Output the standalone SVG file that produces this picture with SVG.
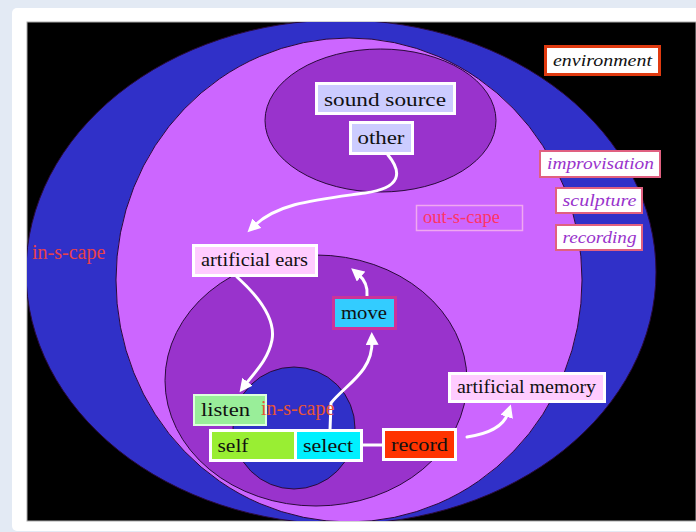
<svg xmlns="http://www.w3.org/2000/svg" width="696" height="532" viewBox="0 0 696 532">
<defs>
<clipPath id="frame"><rect x="27" y="22" width="669" height="499"/></clipPath>
<marker id="ah" markerUnits="userSpaceOnUse" markerWidth="14" markerHeight="14" refX="4" refY="6.5" orient="auto"><path d="M0,0 L13,6.5 L0,13 z" fill="#ffffff"/></marker>
<style>
.lbl{font-family:"Liberation Serif",serif;font-size:19px;fill:#111111}
.sm{font-size:18px}
.it{font-family:"Liberation Serif",serif;font-style:italic;font-size:17px;fill:#9933cc}
.scape{font-family:"Liberation Serif",serif;font-size:20px;fill:#e8404a}
.zone{stroke:#2a0a3a;stroke-width:1}
.wb{stroke:#ffffff;stroke-width:3}
.pk{fill:#ffffff;stroke:#e06080;stroke-width:2}
.con{fill:none;stroke:#ffffff;stroke-width:3;stroke-linecap:round}
</style>
</defs>
<rect x="0" y="0" width="696" height="532" fill="#e3eaf4"/>
<rect x="12" y="8" width="700" height="523" rx="5" fill="#ffffff"/>
<rect x="27" y="22" width="669" height="499" fill="#000000" stroke="#aaaaaa" stroke-width="1"/>
<g id="zones" clip-path="url(#frame)">
<ellipse class="zone" cx="341" cy="272" rx="315" ry="252" fill="#3030c8"/>
<ellipse class="zone" cx="349" cy="280" rx="233" ry="242" fill="#cc66ff"/>
<ellipse class="zone" cx="380.5" cy="120.5" rx="115.5" ry="71.5" fill="#9933cc"/>
<ellipse class="zone" cx="316" cy="380.5" rx="151" ry="125.5" fill="#9933cc"/>
<ellipse class="zone" cx="294" cy="428" rx="61" ry="61" fill="#3030c8"/>
</g>
<g id="connectors">
<path class="con" d="M 388 155 C 402 172, 402 188, 365 193 C 315 200, 278 203, 254 226" marker-end="url(#ah)"/>
<path class="con" d="M 237 277 C 258 296, 276 318, 272 340 C 268 360, 255 372, 245 385" marker-end="url(#ah)"/>
<path class="con" d="M 330 430 L 331 403 C 345 385, 373 372, 372 341" marker-end="url(#ah)"/>
<path class="con" d="M 367 296 C 368 287, 365 280, 358 274" marker-end="url(#ah)"/>
<path class="con" d="M 467 437 C 487 434, 503 428, 508 413" marker-end="url(#ah)"/>
<line class="con" x1="362" y1="445" x2="383" y2="445" stroke-linecap="butt"/>
</g>
<g id="environment">
<rect x="545.5" y="46.5" width="114" height="28" fill="#ffffff" stroke="#e03a10" stroke-width="3"/>
<text x="553" y="66" class="it" style="fill:#111111" textLength="99" lengthAdjust="spacingAndGlyphs">environment</text>
</g>
<g id="sound-source">
<rect class="wb" x="316.5" y="83.5" width="138" height="30" fill="#ccccff"/>
<text x="324" y="106" class="lbl" textLength="122" lengthAdjust="spacingAndGlyphs">sound source</text>
</g>
<g id="other">
<rect class="wb" x="350.5" y="122.5" width="62" height="31" fill="#ccccff"/>
<text x="357.5" y="144" class="lbl" textLength="47" lengthAdjust="spacingAndGlyphs">other</text>
</g>
<g id="improvisation">
<rect class="pk" x="540" y="151" width="120" height="26"/>
<text x="547" y="169" class="it" textLength="107" lengthAdjust="spacingAndGlyphs">improvisation</text>
</g>
<g id="sculpture">
<rect class="pk" x="556" y="188" width="86" height="25"/>
<text x="562.5" y="206" class="it" textLength="74" lengthAdjust="spacingAndGlyphs">sculpture</text>
</g>
<g id="recording">
<rect class="pk" x="556" y="225" width="86" height="25"/>
<text x="562.5" y="243" class="it" textLength="74" lengthAdjust="spacingAndGlyphs">recording</text>
</g>
<g id="out-s-cape">
<rect x="416.5" y="205.5" width="106" height="25" fill="none" stroke="#f0a8f0" stroke-width="1.5"/>
<text x="423" y="223" class="scape" style="font-size:18.5px;fill:#ff3366">out-s-cape</text>
</g>
<g id="in-s-cape-outer">
<text x="32" y="259" class="scape">in-s-cape</text>
</g>
<g id="artificial-ears">
<rect class="wb" x="193.5" y="245.5" width="123" height="30" fill="#ffccff"/>
<text x="201" y="266" class="lbl sm" textLength="107" lengthAdjust="spacingAndGlyphs">artificial ears</text>
</g>
<g id="move">
<rect x="333.5" y="297.5" width="62" height="31" fill="#33ccff" stroke="#cc3399" stroke-width="3"/>
<text x="341" y="319" class="lbl" textLength="46" lengthAdjust="spacingAndGlyphs">move</text>
</g>
<g id="listen">
<rect x="194" y="395" width="72" height="30" fill="#99ee99" stroke="#ddffdd" stroke-width="2"/>
<text x="201" y="416" class="lbl" textLength="49" lengthAdjust="spacingAndGlyphs">listen</text>
</g>
<g id="in-s-cape-inner">
<text x="261" y="415" class="scape" style="fill:#e85535">in-s-cape</text>
</g>
<g id="self">
<rect class="wb" x="210.5" y="430.5" width="85" height="30" fill="#99ee33"/>
<text x="217.5" y="452" class="lbl" textLength="31" lengthAdjust="spacingAndGlyphs">self</text>
</g>
<g id="select">
<rect class="wb" x="295.5" y="430.5" width="66" height="30" fill="#00f0ff"/>
<text x="303" y="452" class="lbl" textLength="50" lengthAdjust="spacingAndGlyphs">select</text>
</g>
<g id="record">
<rect class="wb" x="383.5" y="429.5" width="72" height="30" fill="#ff3300"/>
<text x="391" y="451" class="lbl" textLength="57" lengthAdjust="spacingAndGlyphs">record</text>
</g>
<g id="artificial-memory">
<rect class="wb" x="449.5" y="373.5" width="155" height="28" fill="#ffccff"/>
<text x="457" y="393" class="lbl sm" textLength="139" lengthAdjust="spacingAndGlyphs">artificial memory</text>
</g>
</svg>
